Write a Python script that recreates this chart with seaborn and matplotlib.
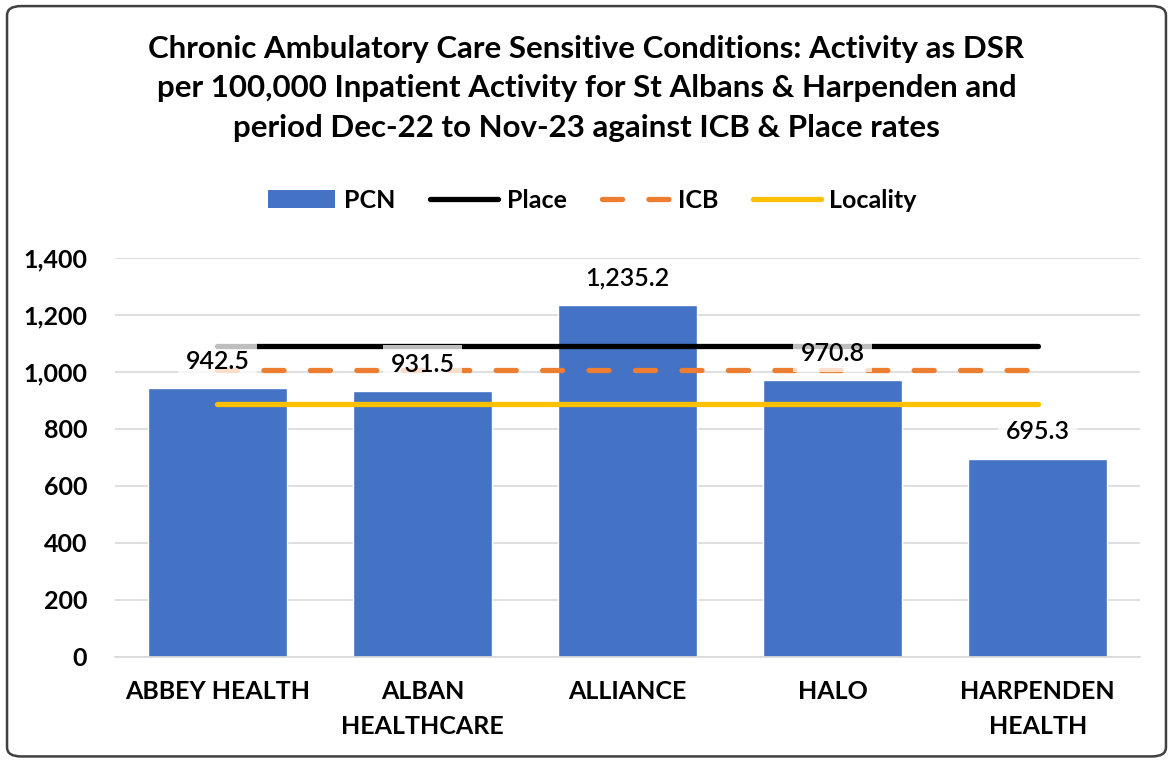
import matplotlib
matplotlib.use("Agg")
import matplotlib.pyplot as plt
import seaborn as sns
import pandas as pd
from matplotlib.patches import Patch, FancyBboxPatch
from matplotlib.lines import Line2D
from matplotlib.ticker import FuncFormatter

categories = ["ABBEY HEALTH", "ALBAN\nHEALTHCARE", "ALLIANCE", "HALO", "HARPENDEN\nHEALTH"]
pcn_values = [942.5, 931.5, 1235.2, 970.8, 695.3]
place_rate = [1091.0, 1091.0, 1091.0, 1091.0, 1091.0]
icb_rate = [1007.0, 1007.0, 1007.0, 1007.0, 1007.0]
locality_rate = [888.0, 888.0, 888.0, 888.0, 888.0]
y_ticks = [0, 200, 400, 600, 800, 1000, 1200, 1400]

sns.set_theme(style="white")
plt.rcParams['font.family'] = ['Lato', 'DejaVu Sans']
plt.rcParams['text.color'] = 'black'
plt.rcParams['xtick.color'] = 'black'
plt.rcParams['ytick.color'] = 'black'

LW = 3.8
DASH = (3.8, 5.0)

fig = plt.figure(figsize=(11.73, 7.61), dpi=100)
ax = fig.add_axes([0.098, 0.137, 0.874, 0.524])

df = pd.DataFrame({"cat": categories, "val": pcn_values})
sns.barplot(data=df, x="cat", y="val", color="#4472C4", saturation=1, width=0.68, ax=ax, zorder=2)

xs = list(range(len(categories)))
ax.plot(xs, place_rate, color="black", lw=LW, solid_capstyle="round", zorder=3)
ax.plot(xs, icb_rate, color="#ED7D31", lw=LW, dashes=DASH, dash_capstyle="round", zorder=3)
ax.plot(xs, locality_rate, color="#FFC000", lw=LW, solid_capstyle="round", zorder=3)

for x, v in zip(xs, pcn_values):
    ax.annotate(f"{v:,.1f}", (x, v), xytext=(0, 14), textcoords="offset points",
                ha="center", va="baseline", fontsize=18, fontweight="semibold",
                color="black", zorder=5,
                bbox=dict(boxstyle="square,pad=0.3", facecolor="white", edgecolor="none", alpha=0.75))

ax.set_ylim(0, 1400)
ax.set_yticks(y_ticks)
ax.yaxis.set_major_formatter(FuncFormatter(lambda v, p: f"{int(v):,}"))
ax.set_xlim(-0.5, len(categories) - 0.5)
ax.grid(axis="y", color="#D9D9D9", lw=1.2, zorder=0)
ax.set_axisbelow(True)
for s in ["top", "right", "left"]:
    ax.spines[s].set_visible(False)
ax.spines["bottom"].set_color("#D9D9D9")
ax.spines["bottom"].set_linewidth(1.2)
ax.tick_params(axis="both", length=0, labelsize=18, labelcolor="black")
ax.tick_params(axis="y", pad=20)
ax.tick_params(axis="x", pad=17)
for lab in ax.get_xticklabels() + ax.get_yticklabels():
    lab.set_fontweight("bold")
for lab in ax.get_xticklabels():
    lab.set_linespacing(1.6)
ax.set_xlabel("")
ax.set_ylabel("")

fig.text(0.5, 0.884, "Chronic Ambulatory Care Sensitive Conditions: Activity as DSR\n"
         "per 100,000 Inpatient Activity for St Albans & Harpenden and\n"
         "period Dec-22 to Nov-23 against ICB & Place rates",
         ha="center", va="center", fontsize=22.5, fontweight="bold", linespacing=1.5,
         color="black")

handles = [Patch(facecolor="#4472C4", edgecolor="none"),
           Line2D([0], [0], color="black", lw=LW, solid_capstyle="round"),
           Line2D([0], [0], color="#ED7D31", lw=LW, dashes=DASH, dash_capstyle="round"),
           Line2D([0], [0], color="#FFC000", lw=LW, solid_capstyle="round")]
leg = fig.legend(handles, ["PCN", "Place", "ICB", "Locality"], loc="center",
                 bbox_to_anchor=(0.505, 0.737), ncol=4, frameon=False,
                 prop={"weight": "bold", "size": 18}, handlelength=2.7,
                 columnspacing=1.4, handletextpad=0.35, labelcolor="black")

border = FancyBboxPatch((0.006, 0.006), 0.988, 0.986, boxstyle="round,pad=0,rounding_size=0.012",
                        transform=fig.transFigure, facecolor="none", edgecolor="#404040", lw=1.8)
fig.patches.append(border)

fig.savefig("out.png", dpi=100)
